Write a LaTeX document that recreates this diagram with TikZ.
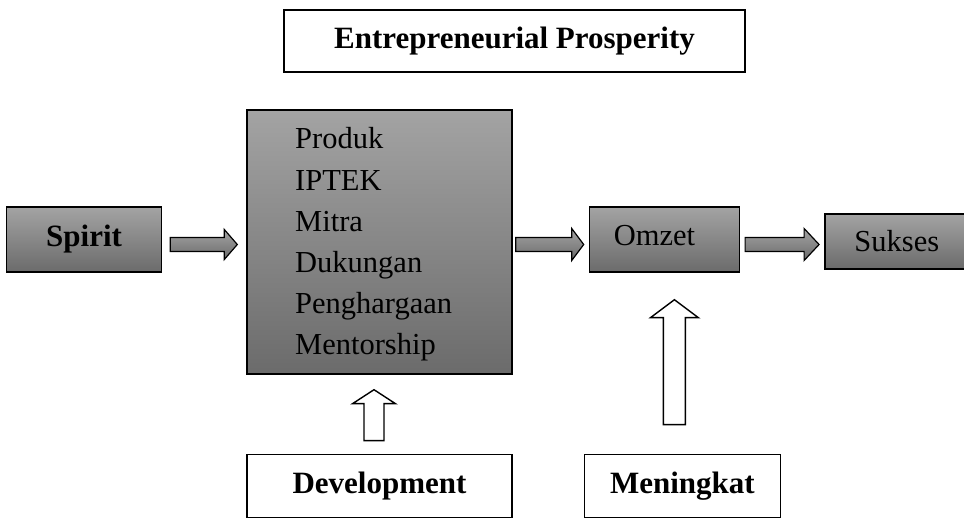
\documentclass[tikz,border=0pt]{standalone}
\usepackage{fontspec}
\setmainfont{Liberation Serif}
\usetikzlibrary{positioning,calc}

\definecolor{boxtop}{gray}{0.64}
\definecolor{boxbot}{gray}{0.42}

\tikzset{
  plainbox/.style = {draw, line width=1.4pt, fill=white, inner sep=0pt,
                     font=\fontsize{31}{37}\selectfont\bfseries},
  greybox/.style  = {draw, line width=1.4pt, top color=boxtop, bottom color=boxbot,
                     inner sep=0pt, font=\fontsize{30.5}{37}\selectfont},
  itemtext/.style = {anchor=base west, inner sep=0pt, font=\fontsize{30.5}{37}\selectfont},
  fatarrow/.style = {draw, line width=1.2pt, line join=miter, top color=boxtop, bottom color=boxbot},
  hollowarrow/.style = {draw, line width=1.4pt, line join=miter, fill=white},
  % block arrow to the right: shaft half width, head half width, head length
  fatright/.style n args = {3}{to path={
    ($(\tikztostart)+(0,#1)$) -- ($(\tikztotarget|-\tikztostart)+(-#3,#1)$)
    -- ($(\tikztotarget|-\tikztostart)+(-#3,#2)$) -- (\tikztotarget|-\tikztostart)
    -- ($(\tikztotarget|-\tikztostart)+(-#3,-#2)$) -- ($(\tikztotarget|-\tikztostart)+(-#3,-#1)$)
    -- ($(\tikztostart)+(0,-#1)$) -- cycle}},
  % block arrow upwards
  fatup/.style n args = {3}{to path={
    ($(\tikztostart)+(#1,0)$) -- ($(\tikztostart|-\tikztotarget)+(#1,#3)$)
    -- ($(\tikztostart|-\tikztotarget)+(#2,#3)$) -- (\tikztostart|-\tikztotarget)
    -- ($(\tikztostart|-\tikztotarget)+(-#2,#3)$) -- ($(\tikztostart|-\tikztotarget)+(-#1,#3)$)
    -- ($(\tikztostart)+(-#1,0)$) -- cycle}}
}

\begin{document}
\begin{tikzpicture}[x=1pt, y=-1pt]
  \useasboundingbox (0,0) rectangle (964,518);

  \node[plainbox, minimum width=461pt, minimum height=62pt] (title) at (514.5,41) {Entrepreneurial Prosperity};

  \node[greybox, minimum width=265pt, minimum height=264pt] (core) at (379.5,242) {};
  \foreach \t [count=\i from 0] in {Produk, IPTEK, Mitra, Dukungan, Penghargaan, Mentorship}
    \node[itemtext] (item\i) at (295,149+41.2*\i) {\t};

  \node[greybox, font=\fontsize{31}{37}\selectfont\bfseries, minimum width=155pt, minimum height=65pt,
        left=84pt of core, yshift=2.5pt] (spirit) {Spirit};
  \node[greybox, minimum width=150pt, minimum height=65pt, right=76pt of core, yshift=2.5pt] (omzet) {};
  \node[itemtext, anchor=base] (omzetlabel) at ($(omzet)+(-10,6.5)$) {Omzet};
  \node[greybox, minimum width=144pt, minimum height=55pt, right=84pt of omzet, yshift=-2pt] (sukses) {Sukses};

  \node[plainbox, minimum width=265pt, minimum height=63.5pt, below=79pt of core] (dev) {Development};
  \node[plainbox, minimum width=196pt, minimum height=63.5pt, below=181pt of omzet, xshift=18pt] (meningkat) {Meningkat};

  % block arrows between the boxes
  \draw[fatarrow, fatright={7}{15}{13}] ([xshift=8pt,yshift=-5pt]spirit.east) to ([xshift=-9pt]core.west);
  \draw[fatarrow, fatright={7}{16}{12}] ([xshift=3pt,yshift=-2.5pt]core.east) to ([xshift=-5pt]omzet.west);
  \draw[fatarrow, fatright={7}{16}{15}] ([xshift=5pt,yshift=-5pt]omzet.east) to ([xshift=-5pt]sukses.west);

  \draw[hollowarrow, fatup={10}{21.5}{14}] ([xshift=-5.5pt,yshift=13pt]dev.north) to ([yshift=-15pt]core.south);
  \draw[hollowarrow, fatup={11}{24}{18}] ([xshift=-8pt,yshift=29pt]meningkat.north) to ([yshift=-27pt]omzet.south);
\end{tikzpicture}
\end{document}
